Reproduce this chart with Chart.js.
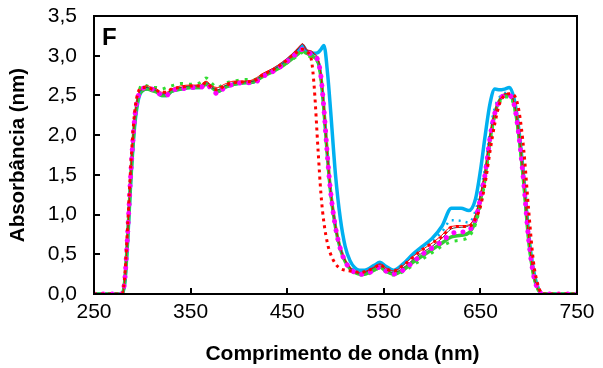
<!DOCTYPE html>
<html><head><meta charset="utf-8">
<script src="https://cdn.jsdelivr.net/npm/chart.js@4/dist/chart.umd.min.js"></script>
<style>html,body{margin:0;padding:0;background:#fff}#w{width:603px;height:368px}</style>
</head><body><div id="w"><canvas id="c" width="603" height="368"></canvas></div>
<script>
const wavelengths = [250,260,270,279,282,285,288,292,296,300,305,310,315,320,325,330,340,350,360,366,372,378,385,395,405,415,425,435,445,455,462,466,470,475,478,482,485,488,492,495,500,505,510,515,520,525,530,540,546,552,560,570,580,590,600,610,620,630,638,645,650,655,660,665,670,675,680,685,690,695,700,705,710,715,730,750];

const blueSolid = [0,0,0,0,0.15,0.7,1.4,2.1,2.45,2.56,2.58,2.57,2.55,2.5,2.5,2.55,2.58,2.6,2.6,2.64,2.6,2.55,2.6,2.64,2.66,2.67,2.75,2.82,2.9,3.0,3.08,3.13,3.06,3.04,3.03,3.04,3.08,3.13,2.75,2.3,1.5,0.95,0.6,0.42,0.33,0.3,0.3,0.36,0.4,0.35,0.3,0.38,0.5,0.6,0.7,0.85,1.08,1.08,1.05,1.2,1.55,2.0,2.4,2.58,2.57,2.58,2.6,2.45,2.05,1.45,0.75,0.3,0.07,0,0,0];
const greenSolid = [0,0,0,0,0.18,0.75,1.45,2.15,2.48,2.56,2.58,2.56,2.54,2.5,2.5,2.55,2.58,2.6,2.6,2.64,2.6,2.55,2.6,2.64,2.66,2.67,2.74,2.8,2.87,2.96,3.03,3.06,3.03,3.0,2.98,2.92,2.72,2.32,1.68,1.28,0.84,0.57,0.41,0.32,0.27,0.25,0.25,0.3,0.34,0.29,0.25,0.3,0.4,0.48,0.56,0.64,0.72,0.74,0.77,0.92,1.18,1.5,1.95,2.28,2.44,2.5,2.5,2.38,1.98,1.38,0.68,0.24,0.05,0,0,0];
const blueDotted = [0,0,0,0,0.2,0.8,1.5,2.2,2.5,2.58,2.6,2.58,2.56,2.52,2.52,2.57,2.6,2.62,2.62,2.66,2.6,2.57,2.62,2.66,2.67,2.68,2.76,2.82,2.9,3.0,3.08,3.12,3.06,3.04,3.01,2.95,2.75,2.35,1.7,1.3,0.86,0.59,0.43,0.34,0.29,0.27,0.28,0.34,0.38,0.33,0.28,0.35,0.46,0.56,0.66,0.78,0.93,0.92,0.9,1.05,1.3,1.6,2.05,2.35,2.48,2.53,2.53,2.4,2.0,1.4,0.7,0.25,0.05,0,0,0];
const greenDotted = [0,0,0,0,0.2,0.8,1.5,2.2,2.52,2.64,2.62,2.6,2.6,2.58,2.6,2.62,2.65,2.64,2.66,2.72,2.65,2.6,2.65,2.68,2.7,2.7,2.75,2.8,2.87,2.95,3.01,3.04,3.01,2.98,2.96,2.9,2.7,2.3,1.65,1.25,0.82,0.55,0.4,0.31,0.26,0.24,0.24,0.29,0.33,0.28,0.24,0.28,0.36,0.44,0.52,0.6,0.66,0.68,0.72,0.88,1.12,1.45,1.9,2.25,2.42,2.48,2.48,2.36,1.98,1.38,0.68,0.24,0.05,0,0,0];
const blackThin = [0,0,0,0,0.2,0.8,1.5,2.2,2.5,2.58,2.6,2.58,2.56,2.52,2.52,2.57,2.6,2.62,2.62,2.67,2.6,2.57,2.62,2.66,2.67,2.68,2.76,2.82,2.9,3.0,3.1,3.15,3.07,3.05,3.02,2.95,2.75,2.35,1.7,1.3,0.85,0.58,0.42,0.33,0.28,0.26,0.27,0.33,0.37,0.31,0.27,0.33,0.43,0.52,0.6,0.7,0.82,0.84,0.86,1.0,1.25,1.55,2.0,2.3,2.45,2.52,2.52,2.4,2.0,1.4,0.7,0.25,0.05,0,0,0];
const redThin = [0,0,0,0,0.2,0.82,1.52,2.22,2.52,2.6,2.62,2.6,2.58,2.54,2.54,2.58,2.62,2.63,2.63,2.68,2.62,2.6,2.64,2.68,2.68,2.7,2.78,2.84,2.92,3.02,3.11,3.15,3.08,3.06,3.03,2.96,2.76,2.36,1.7,1.3,0.86,0.59,0.43,0.34,0.29,0.27,0.28,0.34,0.38,0.33,0.29,0.36,0.47,0.56,0.64,0.74,0.85,0.86,0.87,1.0,1.25,1.55,2.0,2.3,2.45,2.52,2.52,2.4,2.0,1.4,0.7,0.25,0.05,0,0,0];
const magentaDotted = [0,0,0,0,0.2,0.8,1.5,2.2,2.5,2.58,2.6,2.58,2.56,2.5,2.5,2.56,2.58,2.6,2.6,2.64,2.58,2.52,2.6,2.64,2.66,2.66,2.74,2.8,2.88,2.98,3.05,3.08,3.05,3.02,3.0,2.93,2.73,2.33,1.68,1.28,0.84,0.57,0.41,0.32,0.27,0.25,0.25,0.3,0.34,0.29,0.25,0.3,0.4,0.5,0.58,0.66,0.76,0.78,0.8,0.95,1.2,1.52,1.97,2.28,2.44,2.5,2.5,2.38,1.98,1.38,0.68,0.24,0.05,0,0,0];
const redDotted = [0,0,0,0,0.25,0.9,1.6,2.28,2.55,2.6,2.6,2.58,2.56,2.54,2.54,2.58,2.6,2.62,2.62,2.66,2.6,2.57,2.62,2.66,2.67,2.68,2.76,2.82,2.9,3.0,3.06,3.08,3.05,2.95,2.6,1.8,1.25,0.9,0.62,0.5,0.38,0.32,0.3,0.29,0.28,0.27,0.28,0.33,0.37,0.32,0.29,0.36,0.46,0.56,0.64,0.72,0.84,0.85,0.85,0.95,1.1,1.4,1.8,2.15,2.4,2.5,2.52,2.5,2.3,1.8,1.05,0.4,0.1,0,0,0];

const xTicks = [250,350,450,550,650,750];
const yTicks = [0,0.5,1,1.5,2,2.5,3,3.5];
const xTitle = 'Comprimento de onda (nm)';
const yTitle = 'Absorbância (nm)';
const panelLabel = 'F';

function pts(arr){ return wavelengths.map((w,i)=>({x:w,y:arr[i]})); }

// listed bottom-to-top drawing order
const series = [
  {data: blueSolid, color:'#00B0F0', width:3.5, dash:[], cap:'butt'},
  {data: greenSolid, color:'#33CC33', width:3.5, dash:[], cap:'butt'},
  {data: blueDotted, color:'#00B0F0', width:2.5, dash:[2,5], cap:'butt'},
  {data: greenDotted, color:'#33DD33', width:3, dash:[3,6], cap:'butt'},
  {data: blackThin, color:'#404040', width:1, dash:[], cap:'butt'},
  {data: redThin, color:'#FF0000', width:1, dash:[], cap:'butt'},
  {data: magentaDotted, color:'#FF00FF', width:5, dash:[0.1,9], cap:'round'},
  {data: redDotted, color:'#FF0000', width:3, dash:[3,4], cap:'butt'}
];

const FONT = '"Liberation Sans", Arial, sans-serif';

const frameAndText = {
  id:'frameAndText',
  afterDraw(chart){
    const ctx = chart.ctx, a = chart.chartArea;
    const xs = chart.scales.x, ys = chart.scales.y;
    ctx.save();
    ctx.strokeStyle = '#000'; ctx.lineWidth = 2;
    ctx.strokeRect(a.left, a.top, a.right - a.left, a.bottom - a.top);
    ctx.beginPath();
    xTicks.forEach(v=>{ const p = Math.round(xs.getPixelForValue(v)); ctx.moveTo(p, a.bottom); ctx.lineTo(p, a.bottom-6); });
    yTicks.forEach(v=>{ const p = Math.round(ys.getPixelForValue(v)); ctx.moveTo(a.left, p); ctx.lineTo(a.left+6, p); });
    ctx.stroke();
    ctx.fillStyle = '#000';
    ctx.font = 'bold 24px ' + FONT;
    ctx.textBaseline = 'alphabetic';
    ctx.fillText(panelLabel, a.left + 8, a.top + 29);
    ctx.font = 'bold 21px ' + FONT;
    ctx.textAlign = 'center';
    ctx.textBaseline = 'middle';
    ctx.fillText(xTitle, (a.left + a.right) / 2 + 7, 354);
    ctx.restore();
  }
};

const n = series.length;
new Chart(document.getElementById('c'), {
  type:'line',
  data:{ datasets: series.map((s,i)=>({
    label:'s'+i, data:pts(s.data), borderColor:s.color, borderWidth:s.width,
    borderDash:s.dash, borderCapStyle:s.cap, pointRadius:0, fill:false,
    cubicInterpolationMode:'monotone', order: n - i
  }))},
  options:{
    responsive:false, animation:false,
    layout:{padding:{top:16,right:26,left:0,bottom:0}},
    plugins:{legend:{display:false}, tooltip:{enabled:false}},
    scales:{
      x:{type:'linear', min:250, max:750,
        afterBuildTicks(s){ s.ticks = xTicks.map(v=>({value:v})); },
        afterFit(s){ s.height = 74; s.paddingLeft = 0; s.paddingRight = 0; },
        grid:{display:false, drawTicks:false}, border:{display:false},
        ticks:{color:'#000', padding:6, font:{family:FONT, size:21}},
        title:{display:false}
      },
      y:{min:0, max:3.5,
        afterBuildTicks(s){ s.ticks = yTicks.map(v=>({value:v})); },
        afterFit(s){ s.width = 94; s.paddingTop = 0; s.paddingBottom = 0; },
        grid:{display:false, drawTicks:false}, border:{display:false},
        ticks:{color:'#000', padding:17, font:{family:FONT, size:21},
          callback:v=>v.toFixed(1).replace('.',',')},
        title:{display:true, text:yTitle, color:'#000', padding:{top:6,bottom:0}, font:{family:FONT, size:20.5, weight:'bold'}}
      }
    }
  },
  plugins:[frameAndText]
});
</script></body></html>
